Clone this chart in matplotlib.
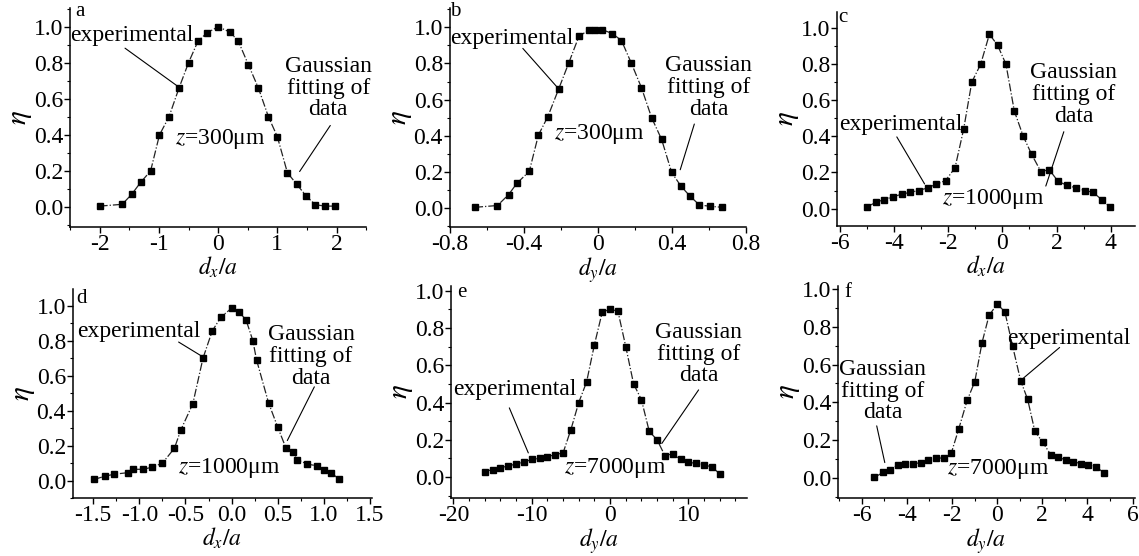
import matplotlib
matplotlib.use("Agg")
import matplotlib.pyplot as plt
from matplotlib.ticker import MultipleLocator

plt.rcParams['font.family'] = ['Liberation Serif', 'DejaVu Serif']
plt.rcParams['mathtext.fontset'] = 'stix'
plt.rcParams['axes.unicode_minus'] = False

# panel a: z=300um, d_x/a
a_x = [-2.0, -1.62, -1.46, -1.31, -1.14, -0.99, -0.83, -0.66, -0.50, -0.34, -0.19, 0.0,
       0.20, 0.34, 0.51, 0.68, 0.85, 1.0, 1.17, 1.33, 1.49, 1.64, 1.80, 1.97]
a_y = [0.005, 0.015, 0.07, 0.136, 0.20, 0.40, 0.50, 0.66, 0.80, 0.92, 0.965, 1.0,
       0.97, 0.92, 0.79, 0.66, 0.50, 0.39, 0.19, 0.125, 0.06, 0.013, 0.005, 0.005]

# panel b: z=300um, d_y/a
b_x = [-0.664, -0.543, -0.483, -0.438, -0.371, -0.322, -0.271, -0.212, -0.159, -0.103, -0.05,
       -0.018, 0.024, 0.078, 0.127, 0.181, 0.235, 0.29, 0.344, 0.398, 0.449, 0.498, 0.548,
       0.603, 0.67]
b_y = [0.005, 0.015, 0.075, 0.138, 0.204, 0.404, 0.506, 0.66, 0.80, 0.95, 0.985,
       0.987, 0.987, 0.965, 0.927, 0.80, 0.666, 0.50, 0.38, 0.198, 0.121, 0.066, 0.018,
       0.011, 0.005]

# panel c: z=1000um, d_x/a
c_x = [-5.0, -4.66, -4.36, -4.04, -3.71, -3.40, -3.08, -2.76, -2.44, -2.10, -1.75, -1.43,
       -1.13, -0.80, -0.48, -0.18, 0.13, 0.44, 0.77, 1.08, 1.42, 1.73, 2.06, 2.37, 2.71,
       3.04, 3.35, 3.66, 3.96]
c_y = [0.01, 0.035, 0.05, 0.065, 0.08, 0.09, 0.10, 0.115, 0.135, 0.155, 0.225, 0.44,
       0.70, 0.80, 0.965, 0.905, 0.80, 0.54, 0.40, 0.30, 0.205, 0.215, 0.15, 0.13, 0.115,
       0.10, 0.09, 0.05, 0.01]

# panel d: z=1000um, d_x/a
d_x = [-1.49, -1.37, -1.27, -1.12, -1.07, -0.96, -0.86, -0.75, -0.62, -0.55, -0.42, -0.31,
       -0.21, -0.115, 0.0, 0.075, 0.155, 0.23, 0.27, 0.40, 0.50, 0.59, 0.66, 0.71, 0.82,
       0.92, 1.0, 1.08, 1.16]
d_y = [0.007, 0.026, 0.037, 0.046, 0.065, 0.065, 0.077, 0.10, 0.185, 0.29, 0.44, 0.70,
       0.855, 0.935, 0.985, 0.965, 0.92, 0.80, 0.69, 0.445, 0.305, 0.185, 0.165, 0.12, 0.095,
       0.085, 0.06, 0.045, 0.01]

# panel e: z=7000um, d_y/a
e_x = [-16, -15, -14, -13, -12, -11, -10, -9, -8, -7, -6, -5, -4, -3, -2, -1, 0,
       1, 2, 3, 4, 5, 6, 7, 8, 9, 10, 11, 12, 13, 14]
e_y = [0.03, 0.04, 0.05, 0.06, 0.07, 0.08, 0.095, 0.10, 0.11, 0.12, 0.13, 0.255, 0.40,
       0.51, 0.71, 0.885, 0.90, 0.89, 0.70, 0.50, 0.415, 0.245, 0.20, 0.115, 0.125, 0.095,
       0.08, 0.073, 0.065, 0.055, 0.017]

# panel f: z=7000um, d_y/a
f_x = [-5.44, -5.04, -4.73, -4.40, -4.06, -3.73, -3.39, -3.07, -2.73, -2.37, -2.03, -1.70,
       -1.33, -0.99, -0.67, -0.36, 0.0, 0.34, 0.68, 1.04, 1.35, 1.67, 2.01, 2.39, 2.71,
       3.04, 3.38, 3.70, 4.04, 4.39, 4.74]
f_y = [0.003, 0.03, 0.043, 0.07, 0.072, 0.076, 0.08, 0.093, 0.103, 0.107, 0.132, 0.26,
       0.41, 0.51, 0.716, 0.86, 0.92, 0.88, 0.70, 0.515, 0.416, 0.247, 0.19, 0.12, 0.112,
       0.093, 0.086, 0.076, 0.069, 0.058, 0.026]

panels = [
    dict(tag='a', x=a_x, y=a_y, xlab=r'$d_x/a$', z='300', rect=[0.0615, 0.592, 0.260, 0.394],
         xlim=(-2.5, 2.5), ylim=(-0.11, 1.105), xmaj=1, xmin=0.5, xfmt='{:.0f}', zero='0',
         tagpos=(-2.33, 1.085), exp_txt=(-1.45, 0.95), exp_line=((-1.61, 0.89), (-0.65, 0.662)),
         gau_txt=(1.86, 0.66), gau_line=((1.92, 0.465), (1.35, 0.184)), ztxt=(0.03, 0.377)),
    dict(tag='b', x=b_x, y=b_y, xlab=r'$d_y/a$', z='300', rect=[0.395, 0.592, 0.260, 0.394],
         xlim=(-0.8, 0.8), ylim=(-0.103, 1.108), xmaj=0.4, xmin=0.2, xfmt='{:.1f}', zero='0',
         tagpos=(-0.77, 1.085), exp_txt=(-0.467, 0.94), exp_line=((-0.416, 0.895), (-0.21, 0.657)),
         gau_txt=(0.597, 0.666), gau_line=((0.525, 0.48), (0.44, 0.198)), ztxt=(0.01, 0.41)),
    dict(tag='c', x=c_x, y=c_y, xlab=r'$d_x/a$', z='1000', rect=[0.735, 0.594, 0.2616, 0.385],
         xlim=(-6.1, 4.9), ylim=(-0.095, 1.09), xmaj=2, xmin=1, xfmt='{:.0f}', zero='0',
         tagpos=(-5.9, 1.06), exp_txt=(-3.75, 0.468), exp_line=((-3.95, 0.41), (-2.82, 0.123)),
         gau_txt=(2.64, 0.63), gau_line=((2.3, 0.44), (1.57, 0.11)), ztxt=(-0.33, 0.055)),
    dict(tag='d', x=d_x, y=d_y, xlab=r'$d_x/a$', z='1000', rect=[0.064, 0.104, 0.2625, 0.376],
         xlim=(-1.72, 1.52), ylim=(-0.1, 1.094), xmaj=0.5, xmin=0.25, xfmt='{:.1f}', zero='0.0',
         tagpos=(-1.63, 1.04), exp_txt=(-1.01, 0.85), exp_line=((-0.6, 0.80), (-0.305, 0.705)),
         gau_txt=(0.86, 0.71), gau_line=((0.91, 0.55), (0.59, 0.215)), ztxt=(-0.03, 0.07)),
    dict(tag='e', x=e_x, y=e_y, xlab=r'$d_y/a$', z='7000', rect=[0.396, 0.104, 0.260, 0.382],
         xlim=(-20.3, 17.5), ylim=(-0.113, 1.026), xmaj=10, xmin=2, xfmt='{:.0f}', zero='0',
         tagpos=(-18.9, 0.99), exp_txt=(-12.1, 0.47), exp_line=((-13.0, 0.385), (-10.3, 0.116)),
         gau_txt=(11.3, 0.66), gau_line=((11.5, 0.48), (6.4, 0.168)), ztxt=(0.7, 0.047)),
    dict(tag='f', x=f_x, y=f_y, xlab=r'$d_y/a$', z='7000', rect=[0.7357, 0.104, 0.2607, 0.382],
         xlim=(-7.05, 6.1), ylim=(-0.107, 1.017), xmaj=2, xmin=1, xfmt='{:.0f}', zero='0',
         tagpos=(-6.6, 0.98), exp_txt=(3.19, 0.74), exp_line=((2.86, 0.70), (1.08, 0.52)),
         gau_txt=(-5.07, 0.46), gau_line=((-5.36, 0.29), (-4.95, 0.067)), ztxt=(0.04, 0.046)),
]

fig = plt.figure(figsize=(11.39, 5.56), dpi=100)

for p in panels:
    ax = fig.add_axes(p['rect'])
    # fit line follows the measured points; squares are the measurements
    ax.plot(p['x'], p['y'], color='#222222', lw=0.9, ls='-.')
    ax.plot(p['x'], p['y'], ls='none', marker='s', ms=3.8, color='black')

    ax.set_xlim(*p['xlim'])
    ax.set_ylim(*p['ylim'])
    for s in ['top', 'right']:
        ax.spines[s].set_visible(False)
    for s in ['left', 'bottom']:
        ax.spines[s].set_linewidth(1.1)
    ax.xaxis.set_major_locator(MultipleLocator(p['xmaj']))
    ax.xaxis.set_minor_locator(MultipleLocator(p['xmin']))
    ax.yaxis.set_major_locator(MultipleLocator(0.2))
    ax.yaxis.set_minor_locator(MultipleLocator(0.1))

    def xfmt(v, pos, f=p['xfmt'], zero=p['zero']):
        if abs(v) < 1e-9:
            return zero
        return f.format(v)
    ax.xaxis.set_major_formatter(xfmt)
    ax.yaxis.set_major_formatter(lambda v, pos: '{:.1f}'.format(abs(v) if abs(v) < 1e-9 else v))
    ax.tick_params(which='major', direction='out', length=4, width=1, labelsize=17, pad=1)
    ax.tick_params(which='minor', direction='out', length=2.5, width=0.8)

    ax.set_xlabel(p['xlab'], fontsize=17, labelpad=0)
    ax.set_ylabel(r'$\eta$', fontsize=21, labelpad=0)

    ax.text(*p['tagpos'], p['tag'], fontsize=15, ha='center', va='center')
    ax.text(*p['exp_txt'], 'experimental', fontsize=17, ha='center', va='center')
    ax.annotate('', xy=p['exp_line'][1], xytext=p['exp_line'][0],
                arrowprops=dict(arrowstyle='-', lw=0.8, color='black'))
    ax.text(*p['gau_txt'], 'Gaussian\nfitting of\ndata', fontsize=17, ha='center', va='center',
            linespacing=1.05)
    ax.annotate('', xy=p['gau_line'][1], xytext=p['gau_line'][0],
                arrowprops=dict(arrowstyle='-', lw=0.8, color='black'))
    ax.text(*p['ztxt'], r'$z$=' + p['z'] + 'μm', fontsize=17, ha='center', va='center')

fig.savefig('out.png', dpi=100)
